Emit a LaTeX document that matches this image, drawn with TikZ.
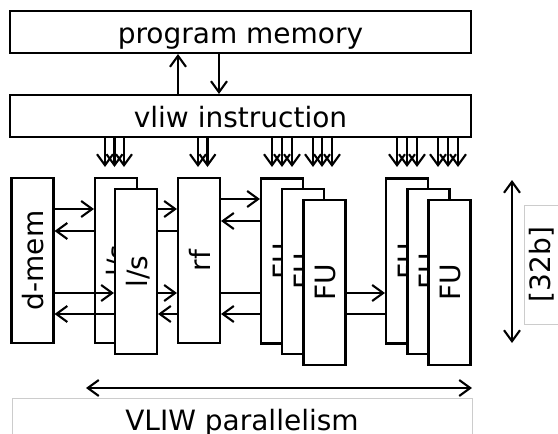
\documentclass[tikz,border=0pt]{standalone}
\usepackage{fontspec}
\setmainfont{DejaVu Sans}
\usetikzlibrary{arrows.meta}
\newcommand\vlab[1]{\rotatebox{90}{\raisebox{0pt}[22pt][0pt]{#1}}}
\begin{document}
\begin{tikzpicture}[x=1pt,y=1pt,
  lw/.style={line width=2.1pt},
  box/.style={draw, lw, fill=white, inner sep=0pt, font=\fontsize{28}{30}\selectfont},
  hbox/.style={box, minimum width=461pt, minimum height=42pt, text height=22pt, text depth=0pt},
  vbox/.style={box, minimum width=42pt, minimum height=165pt},
  tipb/.tip={Straight Barb[length=11pt,width=16pt,line width=2.1pt]},
  arr/.style={lw, -tipb},
  dbl/.style={lw, tipb-tipb},
  gline/.style={draw=black!20, line width=0.8pt},
  gbox/.style={gline, inner sep=0pt, font=\fontsize{28}{30}\selectfont},
  lab/.style={inner sep=0pt, font=\fontsize{28}{30}\selectfont}]
\useasboundingbox (0,0) rectangle (558,-434);

% top boxes
\node[hbox] (pm) at (240.5,-32) {program memory};
\node[hbox] (vliw) at (240.5,-116) {vliw instruction};
\draw[arr] (vliw.north -| 178,0) -- (pm.south -| 178,0);
\draw[arr] (pm.south -| 219,0) -- (vliw.north -| 219,0);
\foreach \x in {105,114.5,124,198,207.5,272,282,292,313,322,332,397,407,417,438,448,458}
  \draw[arr] (vliw.south -| \x,0) -- (\x,-167);

% d-mem, l/s, rf
\node[vbox] (dmem) at (32.5,-260.5) {\vlab{d-mem}};
\node[vbox] (lsA) at (116,-260.5) {\vlab{l/s}};
\node[vbox] (rf) at (199,-260.5) {\vlab{rf}};
\draw[arr] (dmem.east |- 0,-209) -- (lsA.west |- 0,-209);
\draw[arr] (lsA.west |- 0,-231) -- (dmem.east |- 0,-231);
\draw[arr] (lsA.east |- 0,-209) -- (rf.west |- 0,-209);
\draw[arr] (rf.west |- 0,-231) -- (lsA.east |- 0,-231);
\node[vbox] (lsB) at (136,-271.5) {\vlab{l/s}};
\draw[arr] (dmem.east |- 0,-293) -- (lsB.west |- 0,-293);
\draw[arr] (lsB.west |- 0,-314) -- (dmem.east |- 0,-314);
\draw[arr] (lsB.east |- 0,-293) -- (rf.west |- 0,-293);
\draw[arr] (rf.west |- 0,-314) -- (lsB.east |- 0,-314);

% FU group 1
\coordinate (fu1cW) at (303.5,-293);
\coordinate (fu1cW2) at (303.5,-314);
\draw[arr] (rf.east |- 0,-293) -- (fu1cW);
\draw[arr] (fu1cW2) -- (rf.east |- 0,-314);
\node[vbox] (fu1a) at (282,-261) {\vlab{FU}};
\node[vbox] (fu1b) at (303,-271.5) {\vlab{FU}};
\node[vbox] (fu1c) at (324.5,-282.5) {\vlab{FU}};
\draw[arr] (rf.east |- 0,-199) -- (fu1a.west |- 0,-199);
\draw[arr] (fu1a.west |- 0,-221) -- (rf.east |- 0,-221);

% FU group 2
\coordinate (fu2cW) at (428.5,-314);
\draw[arr] (fu1c.east |- 0,-314) -- (fu2cW);
\node[vbox] (fu2a) at (407,-261) {\vlab{FU}};
\node[vbox] (fu2b) at (428.5,-271.5) {\vlab{FU}};
\node[vbox] (fu2c) at (449.5,-282.5) {\vlab{FU}};
\draw[arr] (fu1c.east |- 0,-293) -- (fu2a.west |- 0,-293);

% width annotation
\coordinate (vt) at (512,-180);
\coordinate (vb) at (512,-343);
\draw[dbl] (vt) -- (vb);
\draw[gline] (566,-205) -- (524,-205) -- (524,-324) -- (566,-324);
\node[lab] (bits) at (539,-264.5) {\vlab{[32b]}};

% parallelism annotation
\coordinate (hl) at (86,-388);
\coordinate (hr) at (472,-388);
\draw[dbl] (hl) -- (hr);
\node[gbox, anchor=north, minimum width=460pt, minimum height=42pt, text height=22pt, text depth=0pt] (par) at (242,-398) {VLIW parallelism};
\end{tikzpicture}
\end{document}
